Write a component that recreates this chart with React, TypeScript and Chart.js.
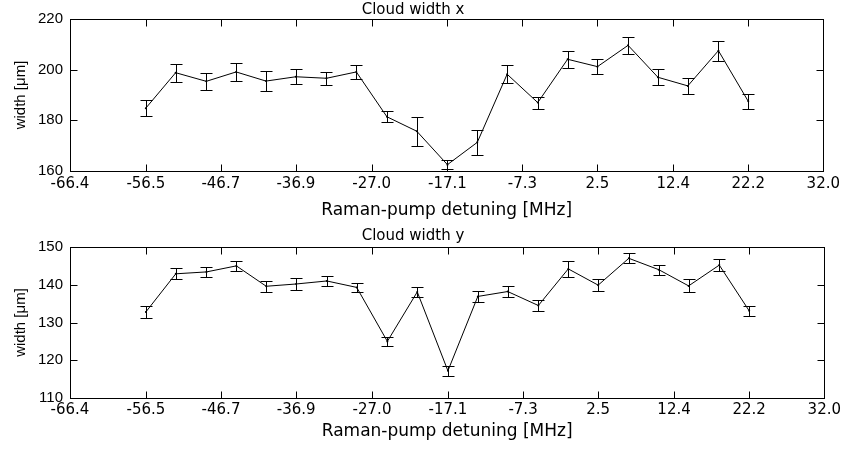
import React, { useEffect, useRef } from "react";
import { Chart, registerables } from "chart.js";

Chart.register(...registerables);

// Raman-pump detuning [MHz]
const detuning = [-56.5, -52.6, -48.6, -44.7, -40.8, -36.9, -32.9, -29.0, -25.0, -21.1, -17.1, -13.2, -9.3, -5.3, -1.4, 2.5, 6.5, 10.4, 14.3, 18.3, 22.2];

// Cloud width x [µm] and its error
const widthX = [184.8, 198.8, 195.4, 199.1, 195.5, 197.2, 196.6, 199.1, 181.4, 175.7, 162.5, 171.3, 198.2, 187.0, 204.1, 201.2, 209.6, 197.0, 193.6, 207.5, 187.5];
const widthXErr = [3.2, 3.5, 3.4, 3.7, 4.1, 2.9, 2.6, 2.6, 2.1, 5.8, 1.8, 4.9, 3.6, 2.4, 3.4, 2.9, 3.4, 3.2, 3.2, 3.9, 2.9];

// Cloud width y [µm] and its error
const widthY = [132.8, 142.9, 143.4, 145.0, 139.6, 140.2, 141.0, 139.3, 125.0, 138.1, 117.2, 136.9, 138.2, 134.5, 144.2, 139.9, 147.0, 144.0, 139.7, 145.2, 133.1];
const widthYErr = [1.6, 1.5, 1.3, 1.4, 1.4, 1.5, 1.3, 1.1, 1.15, 1.3, 1.3, 1.5, 1.4, 1.4, 2.1, 1.5, 1.3, 1.3, 1.7, 1.5, 1.4];

// Tick values / labels
const xTicks = [-66.4, -56.5, -46.7, -36.9, -27.0, -17.1, -7.3, 2.5, 12.4, 22.2, 32.0];
const xTickLabels = ["-66.4", "-56.5", "-46.7", "-36.9", "-27.0", "-17.1", "-7.3", "2.5", "12.4", "22.2", "32.0"];
const yTicksTop = [160, 180, 200, 220];
const yTicksBottom = [110, 120, 130, 140, 150];

const titleTop = "Cloud width x";
const titleBottom = "Cloud width y";
const xAxisTitle = "Raman-pump detuning [MHz]";
const yAxisTitle = "width [\u03bcm]";

type PanelProps = {
  title: string;
  values: number[];
  errors: number[];
  yTicks: number[];
  titlePad: { top: number; bottom: number };
  xAxisHeight: number;
  xTickPad: number;
  xTitlePadBottom: number;
};

function Panel(props: PanelProps) {
  const ref = useRef<HTMLCanvasElement | null>(null);
  useEffect(() => {
    const canvas = ref.current;
    if (!canvas) return;
    const { values, errors, yTicks } = props;

    const errorBars = {
      id: "errorBars",
      afterDatasetsDraw(chart: any) {
        const xs = chart.scales.x;
        const ys = chart.scales.y;
        const ctx = chart.ctx;
        const area = chart.chartArea;
        ctx.save();
        ctx.beginPath();
        ctx.rect(area.left, area.top - 1, area.right - area.left, area.bottom - area.top + 2);
        ctx.clip();
        ctx.strokeStyle = "#000";
        ctx.lineWidth = 1;
        for (let i = 0; i < detuning.length; i++) {
          const px = Math.round(xs.getPixelForValue(detuning[i])) + 0.5;
          const y1 = Math.round(ys.getPixelForValue(values[i] + errors[i])) + 0.5;
          const y2 = Math.round(ys.getPixelForValue(values[i] - errors[i])) + 0.5;
          ctx.beginPath();
          ctx.moveTo(px, y1);
          ctx.lineTo(px, y2);
          ctx.moveTo(px - 6, y1);
          ctx.lineTo(px + 6, y1);
          ctx.moveTo(px - 6, y2);
          ctx.lineTo(px + 6, y2);
          ctx.stroke();
        }
        ctx.restore();
      },
    };

    const frame = {
      id: "frame",
      afterDraw(chart: any) {
        const ctx = chart.ctx;
        const a = chart.chartArea;
        const xs = chart.scales.x;
        const ys = chart.scales.y;
        const L = Math.round(a.left) + 0.5;
        const R = Math.round(a.right) + 0.5;
        const T = Math.round(a.top) + 0.5;
        const B = Math.round(a.bottom) + 0.5;
        const tl = 7;
        ctx.save();
        ctx.strokeStyle = "#000";
        ctx.lineWidth = 1;
        ctx.strokeRect(L, T, R - L, B - T);
        ctx.beginPath();
        xTicks.forEach((v) => {
          const px = Math.round(xs.getPixelForValue(v)) + 0.5;
          if (px <= L + 1 || px >= R - 1) return;
          ctx.moveTo(px, B);
          ctx.lineTo(px, B - tl);
          ctx.moveTo(px, T);
          ctx.lineTo(px, T + tl);
        });
        yTicks.forEach((v) => {
          const py = Math.round(ys.getPixelForValue(v)) + 0.5;
          if (py <= T + 1 || py >= B - 1) return;
          ctx.moveTo(L, py);
          ctx.lineTo(L + tl, py);
          ctx.moveTo(R, py);
          ctx.lineTo(R - tl, py);
        });
        ctx.stroke();
        ctx.restore();
      },
    };

    const chart = new Chart(canvas, {
      type: "scatter",
      data: {
        datasets: [
          {
            data: detuning.map((x, i) => ({ x, y: values[i] })),
            showLine: true,
            borderColor: "#000",
            backgroundColor: "#000",
            borderWidth: 1,
            pointRadius: 1,
            pointBorderWidth: 0,
            pointHoverRadius: 1,
          },
        ],
      },
      options: {
        animation: false,
        responsive: false,
        devicePixelRatio: 1,
        layout: { padding: { left: 0, right: 18, top: 0, bottom: 0 } },
        plugins: {
          legend: { display: false },
          tooltip: { enabled: false },
          title: {
            display: true,
            text: props.title,
            color: "#000",
            font: { family: "'DejaVu Sans'", size: 15, weight: "normal", lineHeight: 1 },
            padding: props.titlePad,
          },
        },
        scales: {
          x: {
            type: "linear",
            min: xTicks[0],
            max: xTicks[xTicks.length - 1],
            grid: { display: false, drawTicks: false },
            border: { display: false },
            afterBuildTicks: (s: any) => {
              s.ticks = xTicks.map((v) => ({ value: v }));
            },
            afterFit: (s: any) => {
              s.height = props.xAxisHeight;
            },
            ticks: {
              autoSkip: false,
              maxRotation: 0,
              padding: props.xTickPad,
              color: "#000",
              font: { family: "'DejaVu Sans'", size: 15, lineHeight: 1.2 },
              callback: (_v: any, i: number) => xTickLabels[i],
            },
            title: {
              display: true,
              text: xAxisTitle,
              color: "#000",
              font: { family: "'DejaVu Sans'", size: 17, lineHeight: 1 },
              padding: { top: 0, bottom: props.xTitlePadBottom },
            },
          },
          y: {
            type: "linear",
            min: yTicks[0],
            max: yTicks[yTicks.length - 1],
            grid: { display: false, drawTicks: false },
            border: { display: false },
            afterBuildTicks: (s: any) => {
              s.ticks = yTicks.map((v) => ({ value: v }));
            },
            afterFit: (s: any) => {
              s.width = 70;
            },
            ticks: {
              padding: 7,
              color: "#000",
              font: { family: "'Liberation Sans'", size: 15 },
              callback: (v: any) => String(v),
            },
            title: {
              display: true,
              text: yAxisTitle,
              color: "#000",
              font: { family: "'Liberation Sans'", size: 15, lineHeight: 1 },
              padding: { top: 13, bottom: 0 },
            },
          },
        },
      },
      plugins: [errorBars, frame],
    } as any);
    return () => chart.destroy();
  }, []);
  return <canvas ref={ref} width={844} height={226} style={{ display: "block", width: 844, height: 226 }} />;
}

export default function App() {
  return (
    <div style={{ position: "absolute", left: 0, top: 0, width: 844, height: 452, background: "#fff" }}>
      <Panel
        title={titleTop}
        values={widthX}
        errors={widthXErr}
        yTicks={yTicksTop}
        titlePad={{ top: 3, bottom: 1 }}
        xAxisHeight={55}
        xTickPad={4}
        xTitlePadBottom={7}
      />
      <Panel
        title={titleBottom}
        values={widthY}
        errors={widthYErr}
        yTicks={yTicksBottom}
        titlePad={{ top: 3, bottom: 3 }}
        xAxisHeight={54}
        xTickPad={3}
        xTitlePadBottom={12}
      />
    </div>
  );
}
